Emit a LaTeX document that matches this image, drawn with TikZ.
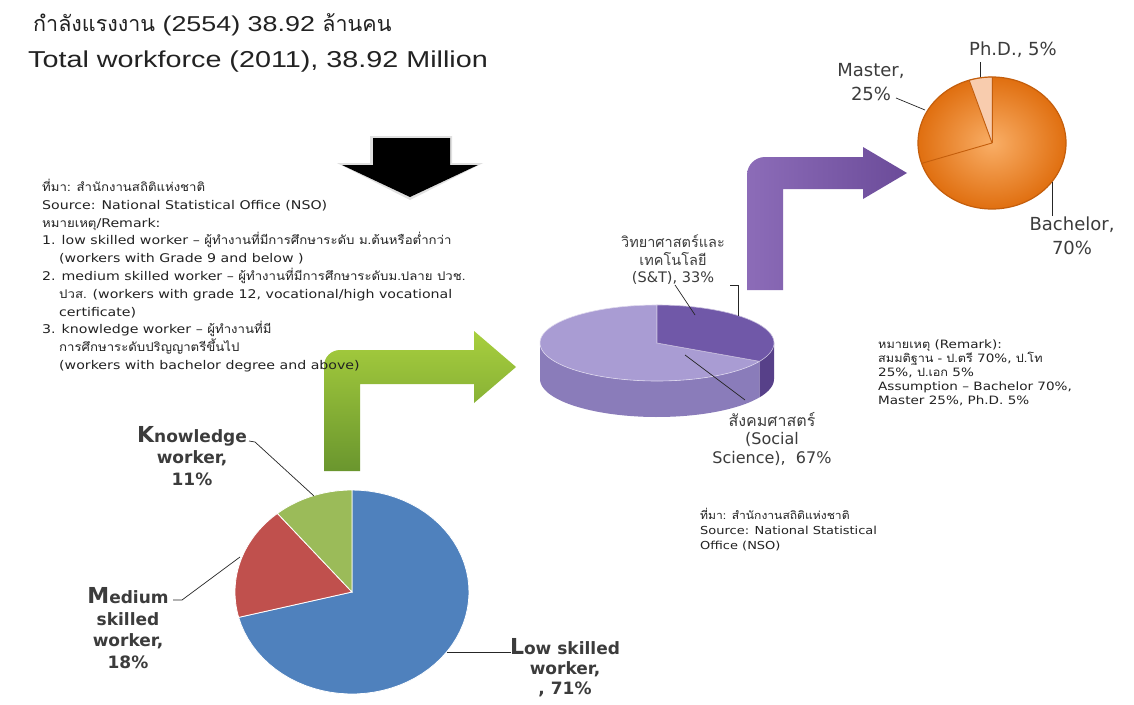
\documentclass[tikz,border=0pt]{standalone}
\usepackage{fontspec}
\setmainfont{DejaVu Sans}
\newfontfamily\notefont[FakeStretch=1.18]{DejaVu Sans}
\newfontfamily\titlefont[FakeStretch=1.25]{Liberation Sans}
\newfontfamily\thaifont[Script=Thai]{Loma}
\newfontfamily\thainote[Script=Thai, FakeStretch=1.1]{Loma}
\usetikzlibrary{positioning,calc}

\definecolor{pieblue}{HTML}{4F81BD}
\definecolor{piered}{HTML}{C0504D}
\definecolor{piegreen}{HTML}{9BBB59}
\definecolor{sttop}{HTML}{7058A8}
\definecolor{stside}{HTML}{574089}
\definecolor{sstop}{HTML}{A99CD3}
\definecolor{ssside}{HTML}{8A7CBA}
\definecolor{orangein}{HTML}{F9AE66}
\definecolor{orangeout}{HTML}{E06F10}
\definecolor{orangerim}{HTML}{C45E0C}
\definecolor{phdpeach}{HTML}{F8CCAE}
\definecolor{greenlight}{HTML}{A8CF3E}
\definecolor{greendark}{HTML}{6A962E}
\definecolor{purplelight}{HTML}{8C6CB8}
\definecolor{purpledark}{HTML}{6B4B99}
\definecolor{labelgray}{HTML}{3C3C3C}
\definecolor{notegray}{HTML}{222222}

\begin{document}
\begin{tikzpicture}[
  x=1pt, y=-1pt,
  lbl/.style={align=center, text=labelgray, inner sep=0pt},
  boldlbl/.style={lbl, font=\bfseries\fontsize{17}{21.5}\selectfont},
  pielbl/.style={lbl, font=\fontsize{14.5}{17.5}\selectfont},
  degreelbl/.style={lbl, font=\fontsize{18}{24}\selectfont},
  note/.style={align=left, anchor=north west, inner sep=0pt, text=notegray},
  leader/.style={draw=black!85, line width=0.7pt},
  sep/.style={draw=white, line width=0.8pt}
]
\useasboundingbox (0,0) rectangle (1134,704);
\fill[white] (0,0) rectangle (1134,704);

% title
\node[anchor=west, inner sep=0pt, text=notegray, font=\titlefont\fontsize{21.5}{24}\selectfont] (titleth) at (33,25)
  {{\thaifont กำลังแรงงาน} (2554) 38.92 {\thaifont ล้านคน}};
\node[anchor=west, inner sep=0pt, text=notegray, font=\titlefont\fontsize{23}{26}\selectfont] (titleen) at (28,62)
  {Total workforce (2011), 38.92 Million};

% block arrows
\fill[black!12] (370,136) -- (452,136) -- (452,163) -- (483,163) -- (410,200) -- (337,163) -- (370,163) -- cycle;
\fill[black] (373,138) -- (450,138) -- (450,165) -- (478,165) -- (410,197) -- (342,165) -- (373,165) -- cycle;
\shade[top color=greenlight, bottom color=greendark]
  (324,471) -- (324,366) arc[start angle=180, end angle=90, radius=16pt] -- (474,350) -- (474,331)
  -- (516,367) -- (474,403) -- (474,384) -- (360,384) -- (360,471) -- cycle;
\shade[left color=purplelight, right color=purpledark]
  (747,290) -- (747,175) arc[start angle=180, end angle=90, radius=18pt] -- (863,157) -- (863,147)
  -- (907,173) -- (863,199) -- (863,189) -- (783,189) -- (783,290) -- cycle;

% workforce pie
\foreach \a/\b/\c in {-90/165.6/pieblue, 165.6/230.4/piered, 230.4/270/piegreen}
  \fill[\c, sep] (352,592) -- plot[domain=\a:\b, samples=60] ({352+117*cos(\x)},{592+102*sin(\x)}) -- cycle;

% field pie (3d)
\fill[ssside] plot[domain=28.8:180, samples=50] ({657+117*cos(\x)},{343+38*sin(\x)})
  -- plot[domain=180:28.8, samples=50] ({657+117*cos(\x)},{379+38*sin(\x)}) -- cycle;
\fill[stside] plot[domain=0:28.8, samples=20] ({657+117*cos(\x)},{343+38*sin(\x)})
  -- plot[domain=28.8:0, samples=20] ({657+117*cos(\x)},{379+38*sin(\x)}) -- cycle;
\fill[sstop, draw=white!60!sstop, line width=0.6pt] (657,343) -- plot[domain=28.8:270, samples=80] ({657+117*cos(\x)},{343+38*sin(\x)}) -- cycle;
\fill[sttop, draw=white!60!sttop, line width=0.6pt] (657,343) -- plot[domain=-90:28.8, samples=50] ({657+117*cos(\x)},{343+38*sin(\x)}) -- cycle;

% degree pie
\shade[inner color=orangein, outer color=orangeout] (992,143) ellipse[x radius=74pt, y radius=66pt];
\fill[phdpeach, draw=orangerim!60, line width=0.6pt] (992,143) -- plot[domain=252:270, samples=10] ({992+74*cos(\x)},{143+66*sin(\x)}) -- cycle;
\draw[orangerim, line width=0.9pt] (992,143) -- ({992+74*cos(162)},{143+66*sin(162)});
\draw[orangerim, line width=0.9pt] (992,143) -- ({992+74*cos(252)},{143+66*sin(252)});
\draw[orangerim, line width=0.9pt] (992,143) -- (992,77);
\draw[orangerim, line width=1.2pt] (992,143) ellipse[x radius=74pt, y radius=66pt];

% notes
\node[note, font=\notefont\fontsize{12}{17.8}\selectfont] (remleft) at (42,179)
  {{\thainote ที่มา: สำนักงานสถิติแห่งชาติ}\\
   Source: National Statistical Office (NSO)\\
   {\thainote หมายเหตุ}/Remark:\\
   1. low skilled worker – {\thainote ผู้ทำงานที่มีการศึกษาระดับ ม.ต้นหรือต่ำกว่า}\\
   \hspace*{17pt}(workers with Grade 9 and below )\\
   2. medium skilled worker – {\thainote ผู้ทำงานที่มีการศึกษาระดับม.ปลาย ปวช.}\\
   \hspace*{17pt}{\thainote ปวส.} (workers with grade 12, vocational/high vocational\\
   \hspace*{17pt}certificate)\\
   3. knowledge worker – {\thainote ผู้ทำงานที่มี}\\
   \hspace*{17pt}{\thainote การศึกษาระดับปริญญาตรีขึ้นไป}\\
   \hspace*{17pt}(workers with bachelor degree and above)};
\node[note, font=\notefont\fontsize{11.5}{14}\selectfont] (remright) at (878,340)
  {{\thainote หมายเหตุ} (Remark):\\
   {\thainote สมมติฐาน - ป.ตรี} 70\%, {\thainote ป.โท}\\
   25\%, {\thainote ป.เอก} 5\%\\
   Assumption – Bachelor 70\%,\\
   Master 25\%, Ph.D. 5\%};
\node[note, font=\notefont\fontsize{11}{15}\selectfont] (srcright) at (700,508)
  {{\thainote ที่มา: สำนักงานสถิติแห่งชาติ}\\
   Source: National Statistical\\
   Office (NSO)};

% workforce labels
\node[boldlbl] (kwlbl) at (192,456) {{\fontsize{22}{22}\selectfont K}nowledge\\worker,\\11\%};
\node[boldlbl] (mslbl) at (128,628) {{\fontsize{22}{22}\selectfont M}edium\\skilled\\worker,\\18\%};
\node[boldlbl, font=\bfseries\fontsize{17}{20}\selectfont] (lslbl) at (565,668) {{\fontsize{22}{22}\selectfont L}ow skilled\\worker,\\, 71\%};
\coordinate (kwfrom) at (249,441);
\coordinate (kwto) at (314,496);
\coordinate (msfrom) at (173,600);
\coordinate (msto) at (240,557);
\coordinate (lsfrom) at (511,652);
\coordinate (lsto) at (447,652);
\draw[leader] (kwfrom) -- ++(6,1) -- (kwto);
\draw[leader] (msfrom) -- ++(9,0) -- (msto);
\draw[leader] (lsfrom) -- (lsto);

% field labels
\node[pielbl] (stlbl) at (673,260) {{\thaifont วิทยาศาสตร์และ}\\{\thaifont เทคโนโลยี}\\(S\&T), 33\%};
\node[pielbl, font=\fontsize{16}{18.5}\selectfont] (sslbl) at (772,439) {{\thaifont สังคมศาสตร์}\\(Social\\Science),~~67\%};
\coordinate (stfrom) at (675,285);
\coordinate (stto) at (695,315);
\coordinate (stbr) at (730,285);
\coordinate (ssfrom) at (745,400);
\coordinate (ssto) at (685,355);
\draw[leader] (stfrom) -- (stto);
\draw[leader] (stbr) -- ++(8,0) -- ++(0,31);
\draw[leader] (ssfrom) -- (ssto);

% degree labels
\node[degreelbl] (phdlbl) at (1013,50) {Ph.D., 5\%};
\node[degreelbl] (malbl) at (871,82) {Master,\\25\%};
\node[degreelbl] (balbl) at (1072,236) {Bachelor,\\70\%};
\coordinate (phdfrom) at (980,62);
\coordinate (phdto) at (980,77);
\coordinate (mafrom) at (896,98);
\coordinate (mato) at (925,110);
\coordinate (bafrom) at (1052,216);
\coordinate (bato) at (1052,182);
\draw[leader] (phdfrom) -- (phdto);
\draw[leader] (mafrom) -- (mato);
\draw[leader] (bafrom) -- (bato);
\end{tikzpicture}
\end{document}
